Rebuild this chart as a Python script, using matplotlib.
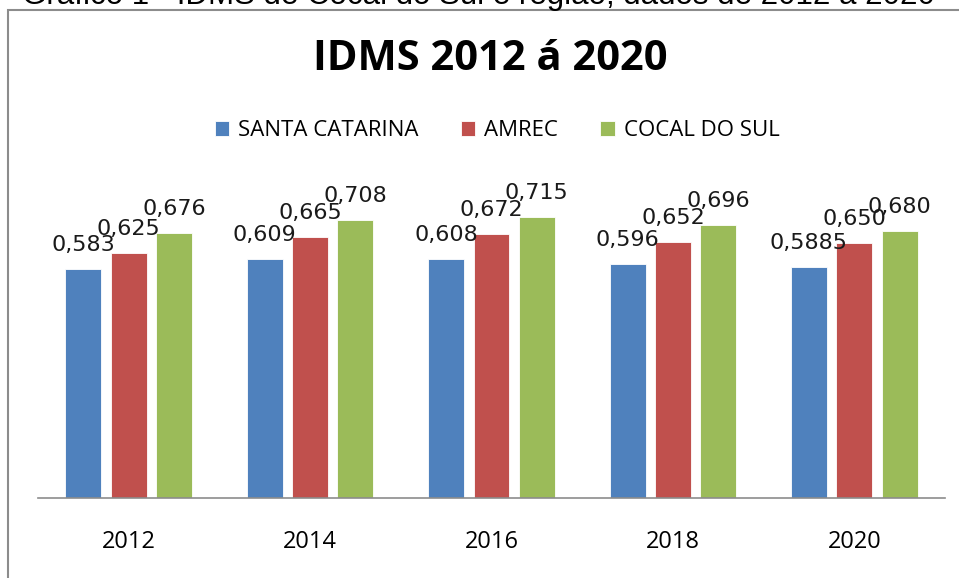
import numpy as np
import matplotlib.pyplot as plt
from matplotlib.patches import Rectangle

anos = ["2012", "2014", "2016", "2018", "2020"]
santa_catarina = [0.583, 0.609, 0.608, 0.596, 0.5885]
amrec = [0.625, 0.665, 0.672, 0.652, 0.650]
cocal_do_sul = [0.676, 0.708, 0.715, 0.696, 0.680]
rotulos_sc = ["0,583", "0,609", "0,608", "0,596", "0,5885"]
rotulos_amrec = ["0,625", "0,665", "0,672", "0,652", "0,650"]
rotulos_cocal = ["0,676", "0,708", "0,715", "0,696", "0,680"]

series = [
    ("SANTA CATARINA", santa_catarina, rotulos_sc, "#4F81BD"),
    ("AMREC", amrec, rotulos_amrec, "#C0504D"),
    ("COCAL DO SUL", cocal_do_sul, rotulos_cocal, "#9BBB59"),
]

W, H = 959, 578
fig = plt.figure(figsize=(W / 100, H / 100), dpi=100)
fig.patch.set_facecolor("white")

# moldura do gráfico (cortada à direita e embaixo)
fig.patches.append(Rectangle((8 / W, -0.1), 1.2, 1.1 - 10 / H, transform=fig.transFigure,
                             fill=False, edgecolor="#8c8c8c", linewidth=1.5))

# legenda do documento, cortada no topo
fig.text(22 / W, 1 - 4 / H, "Gráfico 1 - IDMS de Cocal do Sul e região, dados de 2012 á 2020",
         ha="left", va="baseline", fontsize=22.5, family="Liberation Sans")

ax = fig.add_axes([38 / W, 80 / H, 907 / W, 314 / H])
x = np.arange(len(anos))
largura = 0.198
passo = 0.25
for i, (nome, vals, rots, cor) in enumerate(series):
    pos = x + (i - 1) * passo
    bars = ax.bar(pos, vals, width=largura, color=cor, edgecolor="white", linewidth=0.6, label=nome)
    for b, r in zip(bars, rots):
        ax.annotate(r, (b.get_x() + b.get_width() / 2, b.get_height()),
                    xytext=(0, 13), textcoords="offset points",
                    ha="center", va="baseline", fontsize=16, family="DejaVu Sans", color="#1a1a1a")

ax.set_xlim(-0.5, len(anos) - 0.5)
ax.set_ylim(0, 0.8)
ax.set_xticks(x)
ax.set_xticklabels(anos, fontsize=17, family="Open Sans")
ax.tick_params(axis="x", length=0, pad=23)
ax.set_yticks([])
for s in ["top", "right", "left"]:
    ax.spines[s].set_visible(False)
ax.spines["bottom"].set_color("#8c8c8c")
ax.spines["bottom"].set_linewidth(1.2)

fig.text(490 / W, 1 - 60 / H, "IDMS 2012 á 2020", ha="center", va="center",
         fontsize=30, fontweight="bold", family="Open Sans")

handles, labels = ax.get_legend_handles_labels()
fig.legend(handles, labels, loc="center", bbox_to_anchor=(497 / W, 1 - 131 / H), ncol=3,
           frameon=False, prop={"family": "Open Sans", "size": 16},
           handlelength=0.65, handleheight=0.65, handletextpad=0.4, columnspacing=1.9)

fig.savefig("out.png", dpi=100)
